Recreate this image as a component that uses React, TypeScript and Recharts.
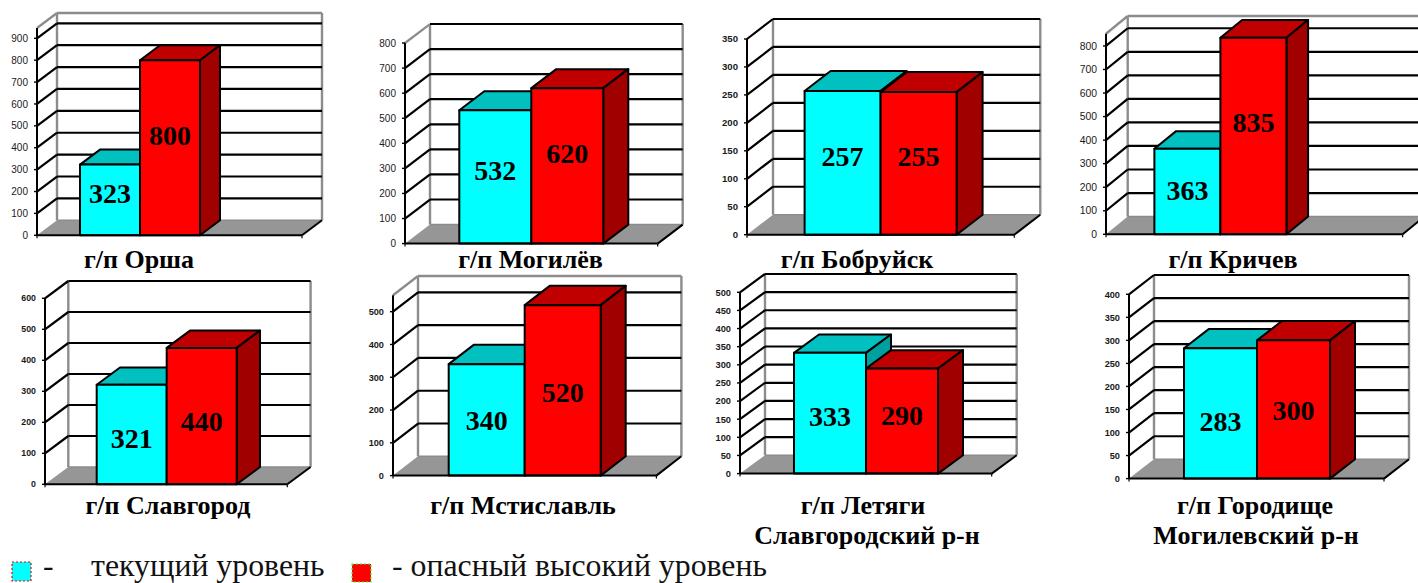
import React from "react";
import { BarChart, Bar, XAxis, YAxis, CartesianGrid, LabelList } from "recharts";

const towns = ["г/п Орша", "г/п Могилёв", "г/п Бобруйск", "г/п Кричев", "г/п Славгород", "г/п Мстиславль", "г/п Летяги", "г/п Городище"];
const subTitles = ["", "", "", "", "", "", "Славгородский р-н", "Могилевский р-н"];
const currentLevel = [323, 532, 257, 363, 321, 340, 333, 283];
const dangerLevel = [800, 620, 255, 835, 440, 520, 290, 300];
const axisMax = [947, 800, 350, 852, 600, 550, 500, 400];
const axisTicks = [
  [0, 100, 200, 300, 400, 500, 600, 700, 800, 900],
  [0, 100, 200, 300, 400, 500, 600, 700, 800],
  [0, 50, 100, 150, 200, 250, 300, 350],
  [0, 100, 200, 300, 400, 500, 600, 700, 800],
  [0, 100, 200, 300, 400, 500, 600],
  [0, 100, 200, 300, 400, 500],
  [0, 50, 100, 150, 200, 250, 300, 350, 400, 450, 500],
  [0, 50, 100, 150, 200, 250, 300, 350, 400],
];
const currentName = "текущий уровень";
const dangerName = "- опасный высокий уровень";

// Page geometry of each panel (front plane, depth, bar span, text style).
const frames = [
  { xL: 37, xR: 302, y0: 235, yT: 27.7, dx: 20, dy: 15, b0: 80, b2: 199, bold: false, fs: 10, greyDiag: true, lift: [6.6, 12.5], tx: 139, ty: 268 },
  { xL: 405, xR: 657.7, y0: 243.3, yT: 42.7, dx: 25, dy: 19, b0: 459.3, b2: 604, bold: false, fs: 10, greyDiag: true, lift: [5.9, 12.6], tx: 530.5, ty: 268 },
  { xL: 746.7, xR: 1014, y0: 235, yT: 39.3, dx: 26, dy: 20, b0: 804.3, b2: 956.7, bold: true, fs: 9.6, greyDiag: false, lift: [6.4, 6.7], tx: 857, ty: 268 },
  { xL: 1106.3, xR: 1403, y0: 234.3, yT: 33.7, dx: 21.7, dy: 17.7, b0: 1154.7, b2: 1287.3, bold: false, fs: 10.4, greyDiag: true, lift: [0.6, 13.3], tx: 1233, ty: 268 },
  { xL: 45, xR: 287.3, y0: 484, yT: 298, dx: 23.3, dy: 17.3, b0: 96.7, b2: 235.7, bold: true, fs: 8.8, greyDiag: false, lift: [-3.5, -5.2], tx: 168, ty: 514 },
  { xL: 393.3, xR: 656.7, y0: 476, yT: 295.7, dx: 25, dy: 19.3, b0: 449, b2: 600, bold: true, fs: 9.2, greyDiag: true, lift: [-0.4, -1.8], tx: 523, ty: 514 },
  { xL: 740, xR: 991.7, y0: 474, yT: 292.7, dx: 25, dy: 18.3, b0: 794, b2: 938, bold: true, fs: 9.3, greyDiag: false, lift: [-3, 5.4], tx: 863, ty: 514, tx2: 867, ty2: 544 },
  { xL: 1129, xR: 1384, y0: 478.3, yT: 294, dx: 25, dy: 19.3, b0: 1184, b2: 1329.7, bold: true, fs: 9.2, greyDiag: false, lift: [-7.8, -1.4], tx: 1255, ty: 514, tx2: 1256, ty2: 544 },
];

const AXIS_W = 40;
const HEAD = 3;
const WALL = "#8c8c8c";
const FLOOR = "#969696";
const SERIF = "'Liberation Serif', serif";
const SANS = "'Liberation Sans', sans-serif";

function box3d(front: string, top: string, side: string, dx: number, dy: number) {
  return (p: any) => {
    const { x, y, width: w, height: h } = p;
    return (
      <g stroke="#000" strokeWidth={2} strokeLinejoin="round">
        <path d={`M${x},${y}L${x + dx},${y - dy}L${x + w + dx},${y - dy}L${x + w},${y}Z`} fill={top} />
        <path d={`M${x + w},${y}L${x + w + dx},${y - dy}L${x + w + dx},${y + h - dy}L${x + w},${y + h}Z`} fill={side} />
        <rect x={x} y={y} width={w} height={h} fill={front} />
      </g>
    );
  };
}

function valueLabel(lift: number) {
  return (p: any) => (
    <text
      x={p.x + p.width / 2}
      y={p.y + p.height / 2 - lift}
      textAnchor="middle"
      dominantBaseline="central"
      fontFamily={SERIF}
      fontWeight="bold"
      fontSize={28}
      fill="#000"
    >
      {p.value}
    </text>
  );
}

function gridLine(f: any, hasTopTick: boolean) {
  const { dx, dy } = f;
  const topY = dy + HEAD;
  const floorY = topY + (f.y0 - f.yT);
  return (p: any) => {
    const { x1, x2, y1: y } = p;
    const isFloor = Math.abs(y - floorY) < 1;
    const isTop = Math.abs(y - topY) < 1;
    return (
      <g key={p.key}>
        {isFloor && (
          <g>
            <polygon points={`${x1},${y} ${x1 + dx},${y - dy} ${x2 + dx},${y - dy} ${x2},${y}`} fill={FLOOR} stroke="none" />
            <line x1={x1 + dx} y1={y - dy} x2={x1 + dx} y2={topY - dy} stroke={WALL} strokeWidth={2.4} />
            <line x1={x2 + dx} y1={y - dy} x2={x2 + dx} y2={topY - dy} stroke={WALL} strokeWidth={2.4} />
            <line x1={x1 + dx} y1={y - dy} x2={x2 + dx} y2={y - dy} stroke={WALL} strokeWidth={1.5} />
            <line x1={x2} y1={y} x2={x2 + dx} y2={y - dy} stroke="#000" strokeWidth={2} />
            <line x1={x1} y1={y} x2={x1} y2={y + 3} stroke="#000" strokeWidth={1.2} />
            <line x1={x2} y1={y} x2={x2} y2={y + 3} stroke="#000" strokeWidth={1.2} />
            {!hasTopTick && (
              <g>
                <line x1={x1 + dx} y1={topY - dy} x2={x2 + dx} y2={topY - dy} stroke={WALL} strokeWidth={2.4} />
                <line x1={x1} y1={topY} x2={x1 + dx} y2={topY - dy} stroke={WALL} strokeWidth={2.4} />
              </g>
            )}
          </g>
        )}
        {!isFloor && (
          <g>
            <line x1={x1} y1={y} x2={x1 + dx} y2={y - dy} stroke={isTop && f.greyDiag ? WALL : "#000"} strokeWidth={2.2} />
            <line x1={x1 + dx} y1={y - dy} x2={x2 + dx} y2={y - dy} stroke="#000" strokeWidth={2.2} />
          </g>
        )}
      </g>
    );
  };
}

function Panel({ index }: { index: number }) {
  const f = frames[index];
  const ticks = axisTicks[index];
  const max = axisMax[index];
  const top = f.yT - f.dy - HEAD;
  const plotH = f.y0 - f.yT;
  const width = AXIS_W + f.xR - f.xL + f.dx + HEAD;
  const height = f.dy + HEAD + plotH + 6;
  const data = [{ name: towns[index], current: currentLevel[index], danger: dangerLevel[index] }];
  const hasTopTick = ticks[ticks.length - 1] === max;
  return (
    <div style={{ position: "absolute", left: f.xL - AXIS_W, top, width, height }}>
      <BarChart
        width={width}
        height={height}
        data={data}
        margin={{ top: f.dy + HEAD, right: f.dx + HEAD, bottom: 2, left: 0 }}
        barCategoryGap={0}
        barGap={0}
      >
        <CartesianGrid
          stroke="#000"
          vertical={false}
          horizontalValues={ticks}
          horizontal={gridLine(f, hasTopTick) as any}
        />
        <XAxis
          dataKey="name"
          height={4}
          tick={false}
          tickLine={false}
          axisLine={{ stroke: "#000", strokeWidth: 2 }}
          padding={{ left: f.b0 - f.xL, right: f.xR - f.b2 }}
        />
        <YAxis
          width={AXIS_W}
          type="number"
          domain={[0, max]}
          ticks={ticks}
          interval={0}
          tickSize={3}
          tickMargin={6}
          axisLine={{ stroke: "#000", strokeWidth: 2 }}
          tickLine={{ stroke: "#000", strokeWidth: 1.4 }}
          tick={{ fontFamily: SANS, fontSize: f.fs, fontWeight: f.bold ? "bold" : "normal", fill: "#1a1a1a" }}
        />
        <Bar dataKey="current" isAnimationActive={false} shape={box3d("#00FFFF", "#00C0C0", "#00A0A0", f.dx, f.dy) as any}>
          <LabelList dataKey="current" content={valueLabel(f.lift[0]) as any} />
        </Bar>
        <Bar dataKey="danger" isAnimationActive={false} shape={box3d("#FF0000", "#C00000", "#A00000", f.dx, f.dy) as any}>
          <LabelList dataKey="danger" content={valueLabel(f.lift[1]) as any} />
        </Bar>
      </BarChart>
    </div>
  );
}

function Overlay() {
  const title = { fontFamily: SERIF, fontWeight: "bold", fontSize: 26, textAnchor: "middle", fill: "#000" } as any;
  const legend = { fontFamily: SERIF, fontSize: 31.8, fill: "#111" } as any;
  const baseline = 575.5;
  return (
    <svg width={1418} height={583} style={{ position: "absolute", left: 0, top: 0, pointerEvents: "none" }}>
      {frames.map((f: any, i) => (
        <g key={towns[i]}>
          <text x={f.tx} y={f.ty} {...title}>{towns[i]}</text>
          {subTitles[i] && <text x={f.tx2} y={f.ty2} {...title}>{subTitles[i]}</text>}
        </g>
      ))}
      <rect x={12} y={562} width={19} height={19} fill="#00FFFF" stroke="#FF0000" strokeWidth={1.2} strokeDasharray="2 2" />
      <text x={43} y={baseline} {...legend}>-</text>
      <text x={91} y={baseline} {...legend}>{currentName}</text>
      <rect x={352} y={564} width={19} height={18} fill="#FF0000" stroke="#33FF33" strokeWidth={1.2} strokeDasharray="2 2" />
      <text x={392} y={baseline} {...legend}>{dangerName}</text>
    </svg>
  );
}

export default function App() {
  return (
    <div style={{ position: "fixed", left: 0, top: 0, width: 1418, height: 583, overflow: "hidden", background: "#fff" }}>
      {towns.map((t, i) => (
        <Panel key={t} index={i} />
      ))}
      <Overlay />
    </div>
  );
}
